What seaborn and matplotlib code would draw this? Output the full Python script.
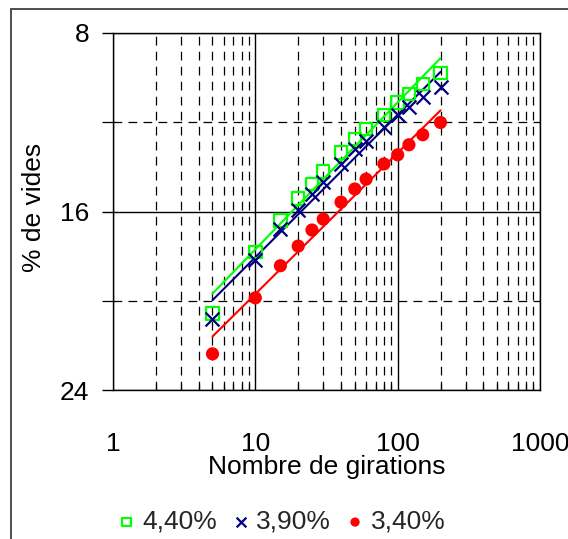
import numpy as np
import pandas as pd
import matplotlib
matplotlib.use("Agg")
import matplotlib.pyplot as plt
from matplotlib.patches import Rectangle
from matplotlib.ticker import FixedLocator, NullFormatter, LogLocator
import seaborn as sns

# Gyratory compactor: void content vs number of gyrations, for three binder contents
girations = [5, 10, 15, 20, 25, 30, 40, 50, 60, 80, 100, 120, 150, 200]
vides_440 = [20.57, 17.81, 16.40, 15.42, 14.76, 14.21, 13.36, 12.76, 12.31, 11.67, 11.12, 10.73, 10.28, 9.78]
vides_390 = [20.80, 18.19, 16.78, 15.92, 15.20, 14.68, 13.85, 13.20, 12.82, 12.22, 11.67, 11.30, 10.85, 10.40]
vides_340 = [22.38, 19.87, 18.43, 17.55, 16.83, 16.34, 15.58, 14.99, 14.55, 13.87, 13.46, 13.01, 12.56, 12.01]
series_labels = ["4,40%", "3,90%", "3,40%"]

y_ticks = [8, 16, 24]
y_minor = [12, 20]
x_ticks = [1, 10, 100, 1000]

sns.set_theme(style="white")
plt.rcParams["font.family"] = ["Liberation Sans", "DejaVu Sans"]
FS = 19

W, H = 568, 539
fig = plt.figure(figsize=(W / 100, H / 100), dpi=100)
ax = fig.add_axes([113 / W, 1 - 390 / H, (540 - 113) / W, (390 - 33) / H])

ax.set_xscale("log")
ax.set_xlim(1, 1000)
ax.set_ylim(24, 8)

styles = [
    dict(marker="s", facecolor="none", edgecolor="#00FF00", linewidth=1.6, s=80),
    dict(marker="x", color="#000080", linewidth=1.6, s=100),
    dict(marker="o", color="#FF0000", edgecolor="none", s=90),
]
line_colors = ["#00FF00", "#000080", "#FF0000"]

for vals, lab, st, lc in zip([vides_440, vides_390, vides_340], series_labels, styles, line_colors):
    df = pd.DataFrame({"g": girations, "v": vals})
    # logarithmic trend line y = a ln(x) + b
    sns.regplot(data=df, x="g", y="v", logx=True, ci=None, truncate=True,
                scatter=False, ax=ax, line_kws=dict(color=lc, lw=1.5))
    sns.scatterplot(data=df, x="g", y="v", ax=ax, label=lab, zorder=4, **st)

# grid: solid majors, dashed minors
ax.yaxis.set_major_locator(FixedLocator(y_ticks))
ax.yaxis.set_minor_locator(FixedLocator(y_minor))
ax.xaxis.set_major_locator(FixedLocator(x_ticks))
ax.xaxis.set_minor_locator(LogLocator(base=10, subs=np.arange(2, 10)))
ax.xaxis.set_minor_formatter(NullFormatter())
ax.set_xticklabels([str(t) for t in x_ticks])
ax.set_yticklabels([str(t) for t in y_ticks])

ax.grid(True, which="major", color="black", lw=1.0, ls="-")
ax.grid(True, which="minor", color="black", lw=0.9, ls=(0, (7, 5)))
ax.set_axisbelow(True)

for sp in ax.spines.values():
    sp.set_visible(True)
    sp.set_color("black")
    sp.set_linewidth(1.0)

ax.tick_params(axis="y", which="major", direction="out", length=8, width=1,
               color="black", left=True, labelsize=FS, pad=9, labelcolor="black")
ax.tick_params(axis="y", which="minor", direction="out", length=8, width=0.9,
               color="black", left=True)
ax.tick_params(axis="x", which="major", direction="in", length=0,
               labelsize=FS, pad=30, labelcolor="black")
ax.tick_params(axis="x", which="minor", direction="in", length=4, width=0.9,
               color="black", bottom=True)

ax.set_xlabel("Nombre de girations", fontsize=FS, color="black", va="center")
ax.xaxis.set_label_coords(0.5, (390 - 467) / (390 - 33))
ax.set_ylabel("% de vides", fontsize=FS, color="black", va="center")
ax.yaxis.set_label_coords((34 - 113) / (540 - 113), (390 - 207) / (390 - 33))

ax.legend(loc="center", bbox_to_anchor=(280 / W, 1 - 522 / H),
          bbox_transform=fig.transFigure, ncol=3, frameon=False,
          fontsize=FS, markerscale=0.7, handletextpad=0.15,
          columnspacing=0.45, handlelength=0.9)

# outer chart frame
fig.patches.append(Rectangle((11 / W, -0.2), 1.2, 1.2 - 9 / H,
                             transform=fig.transFigure, fill=False,
                             ec="#404040", lw=1.3, clip_on=False))

fig.savefig("out.png", dpi=100)
